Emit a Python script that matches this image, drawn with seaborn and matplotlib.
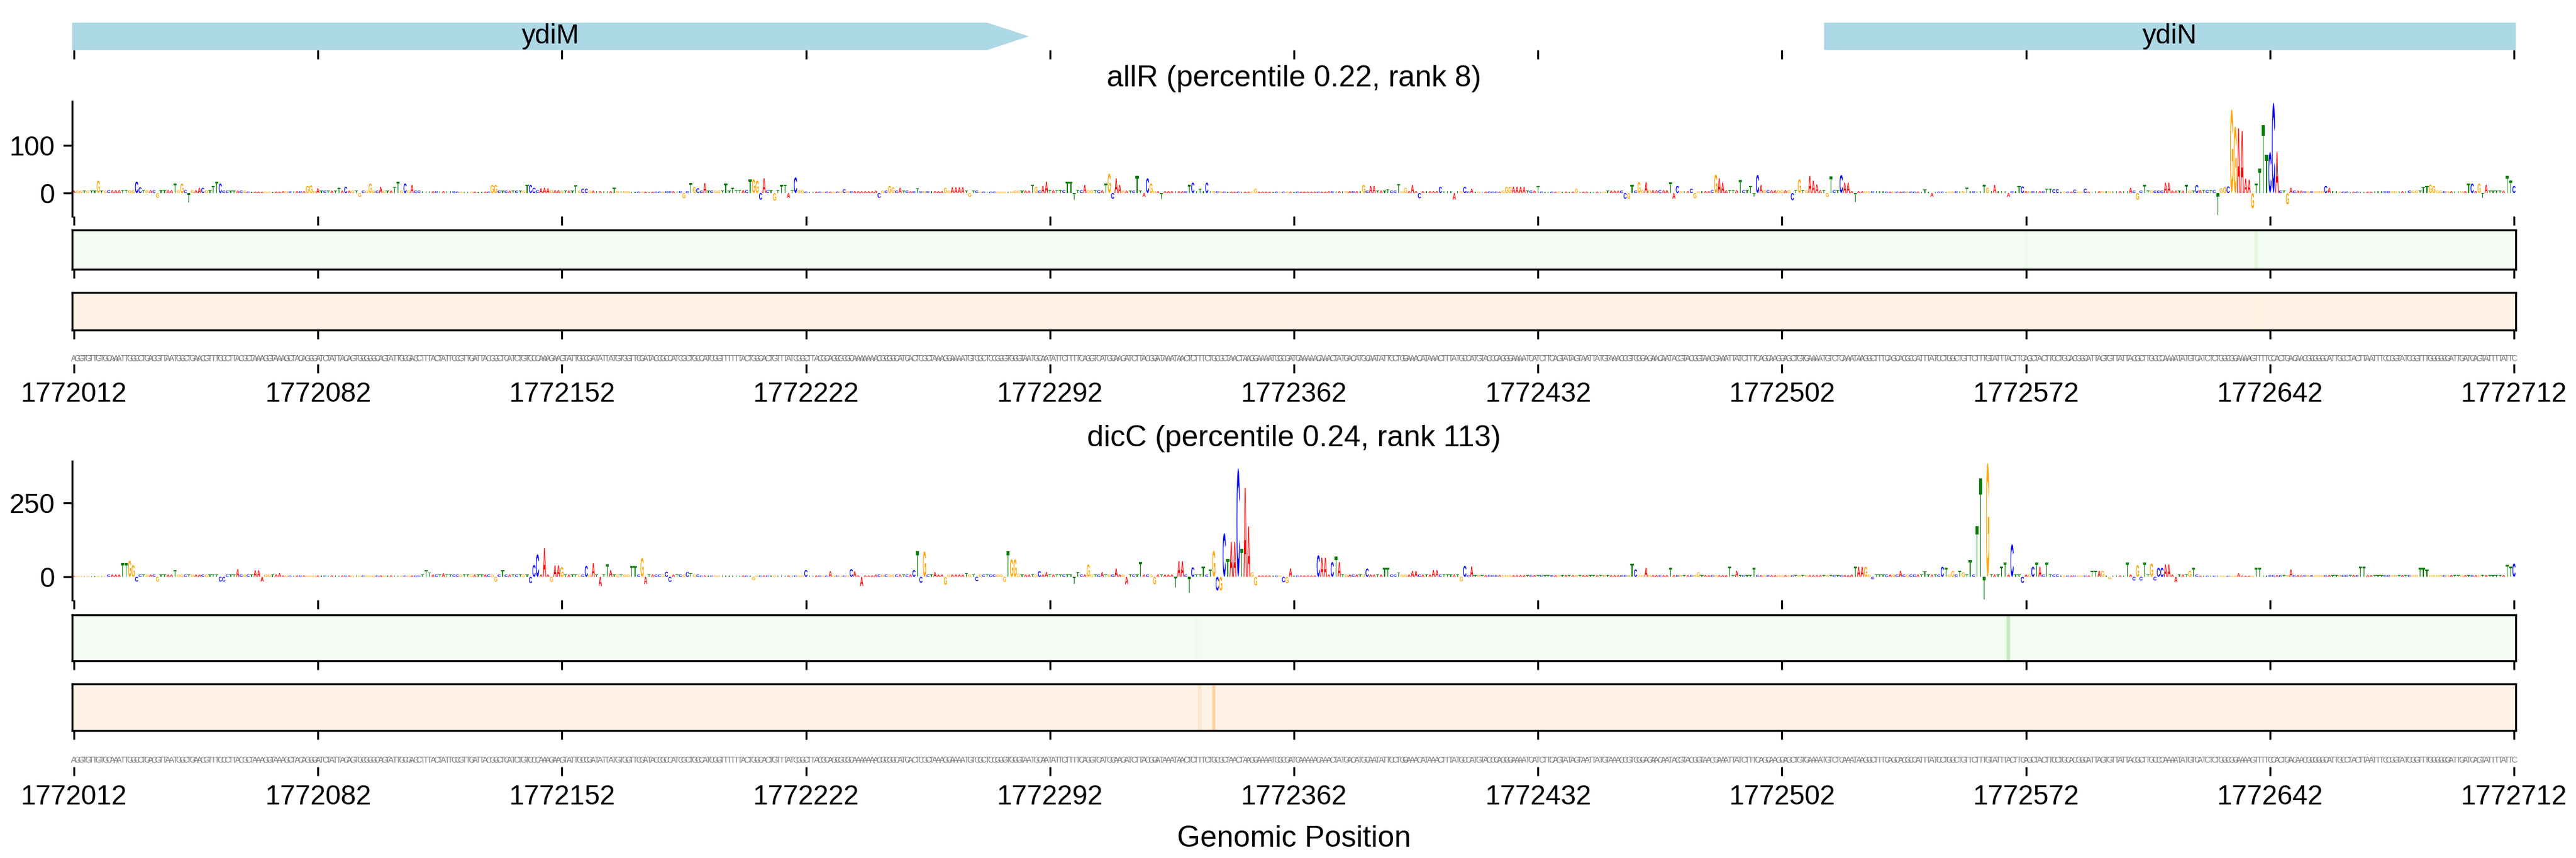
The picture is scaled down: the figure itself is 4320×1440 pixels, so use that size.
import numpy as np
import matplotlib
matplotlib.use('Agg')
import matplotlib.pyplot as plt
import matplotlib.transforms as mtransforms
import seaborn as sns
from matplotlib.textpath import TextPath
from matplotlib.patches import PathPatch, Polygon
from matplotlib.font_manager import FontProperties, fontManager

region_start = 1772012
region_end = 1772712

# reference sequence (1772012 .. 1772712)
seq_parts = [
    "AGGTGTTGTGCAAATTGGCCTGACGTTAATGGCTGAACGTTTCCCTTACGCTAAAGGTAAAGCTACAGGGATCTATTACAGTGCGGGCAGTATTGCGACCTTTACTATTCCGTTGATTACGGCTCATCTGTCCCAAAGAAGTATTGCC",
    "GATATTATGTGGTTCGATACCGCCATCGCTGCCATCGGTTTTTTACTGGCACTGTTTATCGGCTTACGCAGCGCGCAAAAAAACGCGGCATCACTCGCTAAAGGAAAATGTCGCTCCGGGTGGGTAATGCAATATTCTTT",
    "TCAGGTCATGCAAGATCTTACGGATAAATAACTCTTTCTGCGCTAACTAAGGAAAATCGCGATCAAAAACAAACTATGACATGCAATATTCCTGGAAACATAAACTTTATGCCATG",
    "TACCCAGGGAAAATCATCTTCAGTATAGTAATTATGTAAACCGTCGGAGAACAATACGTACGGTAACGAAATTATCTTTCAGCAAGGAGCTGTGAAAATGTCTCAA",
    "ATAAGGCTTTCAGCACGCCATTTATCCTGGCTGTTCTTTGTATTTACTTCAGCTACTTCCTGCACGGCATTAGTGTTATTACGCTTGCCCAAAATATGTCATCTCTGGCGGAAAAG",
    "TTTTCCACTGACAACGCGGGCATTGCCTACTTAATTTCCGGTATCGGTTTGGGGCGATTGATCAGTATTTTATTC",
]
sequence = "".join(seq_parts)
assert len(sequence) == region_end - region_start + 1

tick_positions = [1772012, 1772082, 1772152, 1772222, 1772292, 1772362,
                  1772432, 1772502, 1772572, 1772642, 1772712]
tick_labels = ['1772012', '1772082', '1772152', '1772222', '1772292', '1772362',
               '1772432', '1772502', '1772572', '1772642', '1772712']

# genes in view
gene_names = ['ydiM', 'ydiN']
gene_starts = [1771050, 1772514]
gene_ends = [1772286, 1773800]
arrow_len = 12

# factor panels
titles = ['allR (percentile 0.22, rank 8)', 'dicC (percentile 0.24, rank 113)']
yticks = [[0, 100], [0, 250]]

# background letter height per 10 bp block (estimated)
allr_background = [5, 6, 6, 6, 5, 3, 4, 5, 5, 5, 4, 3, 5, 6, 5, 4, 3, 4, 5, 6,
                   6, 3, 4, 5, 4, 5, 3, 5, 6, 6, 5, 4, 4, 3, 3, 3, 4, 5, 4, 4,
                   3, 5, 3, 3, 5, 6, 4, 6, 6, 6, 6, 4, 3, 3, 4, 4, 4, 3, 4, 5,
                   5, 6, 8, 5, 4, 3, 4, 5, 4, 5, 5]
dicc_background = [3, 8, 8, 8, 8, 8, 5, 5, 5, 5, 8, 8, 8, 8, 8, 8, 8, 8, 5, 5,
                   5, 5, 5, 8, 8, 8, 8, 8, 8, 8, 8, 8, 8, 8, 5, 5, 8, 8, 8, 8,
                   6, 6, 6, 6, 6, 6, 6, 6, 6, 6, 6, 8, 8, 8, 8, 8, 8, 5, 5, 8,
                   8, 4, 4, 6, 6, 6, 6, 6, 6, 6, 6]

# letter heights at notable offsets from region_start
allr_peaks = {
    7: 26, 18: 24, 19: 12, 24: -10, 29: 20, 31: 20, 33: -20, 36: 11, 37: 11, 40: 15, 41: 24, 42: 20,
    67: 15, 68: 16, 70: 10, 76: 11, 78: 13, 82: -8, 85: 20, 88: 13, 92: 13, 93: 24, 95: 20, 97: 17,
    120: 17, 121: 17, 130: 18, 131: 17, 132: 11, 134: 10, 135: 11, 136: 10, 144: 16, 146: 9, 147: 9, 155: 11,
    175: -11, 177: 21, 178: 13, 179: 10, 181: 21, 187: 20, 189: 11, 194: 29, 195: 29, 196: 26, 197: -14, 198: 31,
    201: -16, 203: 17, 204: 18, 205: -10, 207: 33, 221: 8, 231: -10, 234: 15, 235: 12, 237: 11, 242: 10,
    250: 11, 252: 12, 253: 12, 254: 12, 255: 12, 257: -8, 275: 18, 276: 13, 278: 15, 279: 24, 285: 24, 286: 24,
    287: -14, 290: 17, 296: 20, 297: 41, 298: -12, 299: 31, 300: 17, 305: 36, 307: -8, 308: 31, 309: 20,
    312: -12, 320: 17, 321: 22, 323: 9, 325: 22, 339: 9, 370: 17, 372: 15, 373: 15, 377: 8, 380: 19, 382: 11,
    384: 17, 386: -11, 392: 13, 396: -14, 399: 13, 401: 9, 411: 13, 412: 13, 413: 13, 414: 13, 415: 13, 416: 13,
    420: 15, 431: 9, 445: -12, 446: -12, 447: 17, 449: 23, 451: 23, 458: 22, 459: -12, 460: 15, 464: 9, 465: -11,
    471: 39, 472: 31, 473: 22, 478: 27, 481: 15, 482: -8, 483: 38, 484: 17, 493: -15, 495: 29, 498: 36, 499: 26,
    500: 18, 503: -8, 504: 35, 507: 38, 508: 22, 509: 22, 511: -19, 531: 8, 533: -8, 543: 11, 548: 17, 549: 11,
    551: 17, 555: -8, 558: 15, 559: 14, 566: 9, 567: 9, 568: 8, 569: 8, 574: 7, 577: 9,
    590: 11, 592: -14, 594: 17, 600: 22, 601: 22, 606: 17, 609: 17, 615: -47, 616: 10, 617: 12, 618: 14,
    619: 176, 620: 140, 621: 136, 622: 130, 623: 30, 624: 28, 625: -32, 626: 20, 627: 51, 628: 143, 629: 80,
    630: 86, 631: 190, 632: 86, 635: -24, 636: 11, 646: 15, 647: 11, 674: 13, 675: 15, 676: 18, 677: 15,
    687: 20, 688: 20, 690: 20, 691: -10, 692: 17, 698: 36, 699: 26, 700: 15,
}
dicc_peaks = {
    14: 47, 15: 47, 16: 55, 17: 40, 18: -16, 24: -16, 29: 22, 42: -16, 43: -16, 47: 26, 52: 22, 53: 22,
    54: -16, 59: 12, 101: 22, 102: 15, 106: 12, 121: -16, 123: 22, 131: -21, 132: 40, 133: 76, 135: 97,
    137: -17, 138: 39, 139: 39, 140: 33, 147: 37, 149: 46, 151: -31, 153: 42, 154: 23, 160: 36, 161: 36,
    163: 64, 164: -24, 170: 17, 171: -17, 176: 16, 177: 12, 195: -11, 210: 23, 217: 19, 223: 26, 224: 19,
    226: -31, 241: 23, 242: 87, 243: -20, 244: 86, 247: 16, 250: -27, 256: 13, 259: -14, 267: -17, 268: 86,
    269: 59, 270: 59, 277: 19, 279: 16, 287: -24, 288: 16, 291: 42, 295: 16, 299: 28, 302: -25, 306: 50,
    310: -25, 316: -36, 317: 53, 318: 53, 320: -54, 321: 32, 324: 35, 326: 25, 327: 88, 328: -46, 329: -46,
    330: 147, 331: 60, 332: 118, 333: 118, 334: 366, 335: 95, 336: 300, 337: 170, 338: 15, 339: -29,
    347: -18, 348: -22, 349: 28, 357: 73, 358: 64, 359: 64, 361: 50, 362: 68, 363: 50, 371: 28, 376: 30,
    377: 30, 380: 15, 384: 20, 385: 20, 390: 23, 391: 23, 398: -15, 399: 37, 401: 35,
    447: 45, 448: 25, 451: 30, 458: 30, 466: 15, 475: 35, 477: 20, 482: 30,
    511: 34, 512: 34, 513: 34, 514: 34, 516: -8, 524: 20, 531: 19, 536: 34, 537: 30, 539: 20, 541: 20,
    542: 15, 544: 57, 546: 170, 547: 332, 548: -75, 549: 384, 553: 34, 554: 48, 556: 110, 559: -20,
    562: 34, 563: 48, 564: 34, 566: 48, 579: 20, 580: 20, 581: 20, 582: 20, 584: -8, 589: 48, 591: -12,
    592: 40, 593: -12, 594: 48, 596: 45, 597: -12, 598: 30, 599: 30, 600: 42, 601: 42, 603: -18, 607: 20,
    608: 30, 621: 12, 626: 30, 627: 30, 636: 25, 656: 35, 657: 35, 673: 30, 674: 30, 675: 25,
    698: 40, 699: 35, 700: 45,
}

# attribution strips (fraction of colour scale)
strip_background = 0.02
allr_green = {626: 0.12, 560: 0.05}
allr_orange = {626: 0.04}
dicc_green = {555: 0.25, 322: 0.05}
dicc_orange = {323: 0.12, 327: 0.25}

base_colors = {'A': '#ff0000', 'C': '#0000ff', 'G': '#ffa500', 'T': '#008000'}

sns.set_style('ticks')
plt.rcParams['font.family'] = ['Liberation Sans', 'DejaVu Sans']
plt.rcParams.update({'axes.edgecolor': 'black', 'xtick.color': 'black', 'ytick.color': 'black',
                     'text.color': 'black', 'axes.labelcolor': 'black', 'axes.linewidth': 0.8})

n = len(sequence)
positions = region_start + np.arange(n)


def build_heights(background, peaks):
    h = np.repeat(np.array(background, dtype=float), 10)[:n]
    for k, v in peaks.items():
        h[k] = v
    return h


def build_strip(peaks):
    v = np.full(n, strip_background)
    for k, val in peaks.items():
        v[k] = val
    return v


glyph_font = FontProperties(family='Liberation Sans', weight='bold')
glyphs = {}
for b in 'ACGT':
    p = TextPath((0, 0), b, size=1, prop=glyph_font)
    glyphs[b] = (p, p.get_extents())


def draw_letter(ax, b, x, h, width=0.9):
    p, ext = glyphs[b]
    t = (mtransforms.Affine2D()
         .translate(-ext.x0, -ext.y0)
         .scale(width / ext.width, abs(h) / ext.height)
         .translate(x - width / 2, min(0, h)))
    ax.add_patch(PathPatch(t.transform_path(p), facecolor=base_colors[b], edgecolor='none', lw=0))


fig = plt.figure(figsize=(14.4, 4.8), dpi=300)
W, H = 4320, 1440


def add_row(top, bottom):
    return fig.add_axes([121 / W, 1 - bottom / H, 4098 / W, (bottom - top) / H])


xlim = (region_start - 0.5, region_end + 0.5)

# gene track
ax_gene = add_row(38, 84)
for name, gs, ge in zip(gene_names, gene_starts, gene_ends):
    s = max(gs, xlim[0])
    e = min(ge, xlim[1])
    tip = arrow_len if ge <= xlim[1] else 0
    ax_gene.add_patch(Polygon([(s, 0), (e - tip, 0), (e, 0.5), (e - tip, 1), (s, 1)],
                              closed=True, facecolor='lightblue', edgecolor='none'))
    ax_gene.text((s + e) / 2, 0.5, name, ha='center', va='center', fontsize=11)
ax_gene.set_xlim(xlim)
ax_gene.set_ylim(0, 1)
ax_gene.set_xticks(tick_positions)
ax_gene.set_xticklabels([])
ax_gene.set_yticks([])
sns.despine(ax=ax_gene, left=True, bottom=True)

names = set(f.name for f in fontManager.ttflist)
seq_family = 'Liberation Sans Narrow' if 'Liberation Sans Narrow' in names else 'Liberation Sans'
seq_size = 4.0 if seq_family == 'Liberation Sans Narrow' else 3.3

panels = [
    (allr_background, allr_peaks, allr_green, allr_orange, (170, 363, 386, 452, 491, 554, 593, 611)),
    (dicc_background, dicc_peaks, dicc_green, dicc_orange, (774, 1007, 1032, 1109, 1148, 1226, 1264, 1287)),
]

for i, (bg, peaks, green, orange, rows) in enumerate(panels):
    heights = build_heights(bg, peaks)
    ax = add_row(rows[0], rows[1])
    for x, b, h in zip(positions, sequence, heights):
        if h != 0:
            draw_letter(ax, b, x, h)
    ax.set_xlim(xlim)
    ax.set_ylim(heights.min() * 1.04, heights.max() * 1.015)
    ax.set_yticks(yticks[i])
    ax.set_xticks(tick_positions)
    ax.set_xticklabels([])
    ax.tick_params(labelsize=11)
    sns.despine(ax=ax, bottom=True)
    ax.set_title(titles[i], fontsize=12)

    for (top, bottom), vals, cmap in [((rows[2], rows[3]), green, 'Greens'),
                                      ((rows[4], rows[5]), orange, 'Oranges')]:
        axs = add_row(top, bottom)
        sns.heatmap(build_strip(vals)[np.newaxis, :], ax=axs, cmap=cmap, vmin=0, vmax=1,
                    cbar=False, xticklabels=False, yticklabels=False)
        for sp in axs.spines.values():
            sp.set_visible(True)
            sp.set_color('black')
            sp.set_linewidth(0.8)
        axs.set_xticks(np.array(tick_positions) - region_start + 0.5)
        axs.set_xticklabels([])
        axs.set_yticks([])
        axs.tick_params(bottom=True, left=False)

    axq = add_row(rows[6], rows[7])
    for x, b in zip(positions, sequence):
        axq.text(x, 0.5, b, transform=axq.get_xaxis_transform(), ha='center', va='center',
                 fontsize=seq_size, color='#7a7a7a', family=seq_family)
    axq.set_xlim(xlim)
    axq.set_xticks(tick_positions)
    axq.set_xticklabels(tick_labels, fontsize=11)
    axq.set_yticks([])
    sns.despine(ax=axq, left=True, bottom=True)
    if i == 1:
        axq.set_xlabel('Genomic Position', fontsize=12, labelpad=6)

fig.savefig('out.png', dpi=300)
